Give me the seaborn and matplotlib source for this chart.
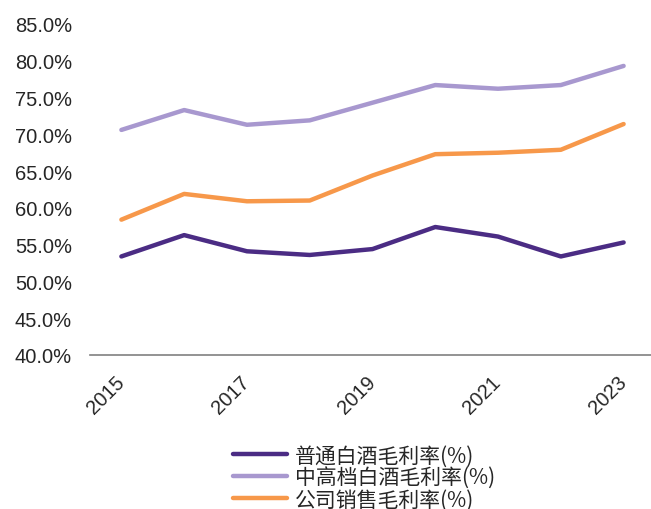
import numpy as np
import pandas as pd
import matplotlib
matplotlib.use("Agg")
import matplotlib.pyplot as plt
import seaborn as sns

# data
years = [2015, 2016, 2017, 2018, 2019, 2020, 2021, 2022, 2023]
normal = [53.4, 56.3, 54.1, 53.6, 54.4, 57.4, 56.1, 53.4, 55.3]
premium = [70.6, 73.3, 71.3, 71.9, 74.3, 76.7, 76.2, 76.7, 79.3]
company = [58.4, 61.9, 60.9, 61.0, 64.4, 67.3, 67.5, 67.9, 71.4]
names = ["普通白酒毛利率(%)", "中高档白酒毛利率(%)", "公司销售毛利率(%)"]
colors = ["#4B2C84", "#A898CF", "#F7984A"]
year_labels = [2015, 2017, 2019, 2021, 2023]
y_ticks = [40, 45, 50, 55, 60, 65, 70, 75, 80, 85]

df = pd.DataFrame({
    "year": years * 3,
    "value": normal + premium + company,
    "series": [names[0]] * 9 + [names[1]] * 9 + [names[2]] * 9,
})

sns.set_style("white")
plt.rcParams['font.family'] = ['Liberation Sans', 'Noto Sans CJK SC', 'DejaVu Sans']

fig = plt.figure(figsize=(6.51, 5.10), dpi=100)
ax = fig.add_axes([90/651, 1 - 356/510, 565/651, 331/510])

sns.lineplot(data=df, x="year", y="value", hue="series", palette=colors,
             linewidth=3.2, ax=ax, legend=False, solid_capstyle="round",
             solid_joinstyle="round")

ax.set_xlim(2014.5, 2023.5)
ax.set_ylim(40, 85)
ax.set_xlabel("")
ax.set_ylabel("")

for s in ["top", "right", "left"]:
    ax.spines[s].set_visible(False)
ax.spines["bottom"].set_color("#808080")
ax.spines["bottom"].set_linewidth(1.2)

# category boundaries as tick marks, labels every other year
ax.set_xticks(year_labels)
ax.set_xticklabels([str(y) for y in year_labels], rotation=45, ha="right",
                   rotation_mode="anchor", fontsize=14.5)
ax.set_xticks(np.arange(2014.5, 2023.6, 1), minor=True)
ax.tick_params(axis="x", which="major", length=0, pad=17)
ax.tick_params(axis="x", which="minor", direction="in", length=6,
               color="#808080", width=1)
for lab in ax.get_xticklabels():
    lab.set_va("center")

ax.set_yticks(y_ticks)
ax.set_yticklabels([f"{v:.1f}%" for v in y_ticks], fontsize=14.5)
ax.tick_params(axis="y", length=0, pad=13)

handles = [plt.Line2D([], [], color=c, lw=3.2, solid_capstyle="round") for c in colors]
fig.legend(handles, names, loc="upper center", bbox_to_anchor=(364/651, 1 - 435/510),
           frameon=False, ncol=1, handlelength=2.6, handletextpad=0.35,
           labelspacing=0.0, borderpad=0,
           prop={"family": ["Noto Sans CJK SC", "DejaVu Sans"], "size": 15})

fig.savefig("out.png", dpi=100)
